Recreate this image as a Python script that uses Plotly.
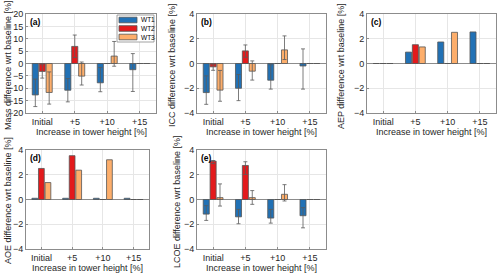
import plotly.graph_objects as go

categories = ["Initial", "+5", "+10", "+15"]
series = ["WT1", "WT2", "WT3"]
colors = {"WT1": "#2171B5", "WT2": "#E31A1C", "WT3": "#FDAE6B"}

# (a) Mass difference
mass_val = {"WT1": [-12.7, -10.8, -7.8, -2.5], "WT2": [-3.2, 6.9, 0, 0], "WT3": [-11.7, -5.1, 3.0, 0]}
mass_hi = {"WT1": [-6.3, -6.1, -1.6, 4.0], "WT2": [-0.5, 11.5, None, None], "WT3": [-3.4, 0.6, 8.9, None]}
mass_lo = {"WT1": [-17.4, -15.5, -11.4, -11.3], "WT2": [-5.9, 2.4, None, None], "WT3": [-16.4, -8.7, -1.1, None]}

# (b) ICC difference
icc_val = {"WT1": [-2.35, -2.0, -1.35, -0.2], "WT2": [-0.27, 1.02, 0, 0], "WT3": [-2.15, -0.62, 1.1, 0]}
icc_hi = {"WT1": [-1.0, -0.89, -0.1, 1.18], "WT2": [-0.1, 1.5, None, None], "WT3": [-0.56, 0.21, 2.23, None]}
icc_lo = {"WT1": [-3.3, -3.0, -2.07, -2.07], "WT2": [-0.55, 0.5, None, None], "WT3": [-3.05, -1.34, 0.32, None]}

# (c) AEP difference
aep_val = {"WT1": [0, 0.92, 1.74, 2.55], "WT2": [0, 1.52, 0, 0], "WT3": [0, 1.34, 2.52, 0]}

# (d) AOE difference
aoe_val = {"WT1": [0.1, 0.1, 0.1, 0.1], "WT2": [2.51, 3.54, 0, 0], "WT3": [1.37, 2.37, 3.21, 0]}

# (e) LCOE difference
lcoe_val = {"WT1": [-1.18, -1.4, -1.5, -1.31], "WT2": [3.1, 2.75, 0, 0], "WT3": [0.15, 0.15, 0.42, 0]}
lcoe_hi = {"WT1": [-0.5, -0.8, -0.8, -0.66], "WT2": [3.15, 3.05, None, None], "WT3": [1.26, 0.72, 1.2, None]}
lcoe_lo = {"WT1": [-1.69, -1.96, -1.91, -2.29], "WT2": [2.9, 2.02, None, None], "WT3": [-0.53, -0.39, -0.12, None]}

panels = [
    ("(a)", "Mass difference wrt baseline [%]", mass_val, mass_hi, mass_lo, [-20, 20], 5),
    ("(b)", "ICC difference wrt baseline [%]", icc_val, icc_hi, icc_lo, [-4, 4], 2),
    ("(c)", "AEP difference wrt baseline [%]", aep_val, None, None, [-4, 4], 2),
    ("(d)", "AOE difference wrt baseline [%]", aoe_val, None, None, [-4, 4], 2),
    ("(e)", "LCOE difference wrt baseline [%]", lcoe_val, lcoe_hi, lcoe_lo, [-4, 4], 2),
]

W, H = 500, 276
# pixel boxes (left, right, top, bottom)
boxes = [(26, 156, 14, 113), (197, 326, 14, 113), (367, 496, 14, 113),
         (26, 149, 150, 249), (197, 326, 150, 249)]
ylab_x = [8, 172, 341, 8, 177]
ylab_y = [66, 66, 66, 201, 202]

FONT = "Liberation Sans, Arial, sans-serif"
TXT = "#262626"
fig = go.Figure()
layout = dict(width=W, height=H, margin=dict(l=0, r=0, t=0, b=0, autoexpand=False),
              paper_bgcolor="white", plot_bgcolor="white",
              barmode="group", bargap=0.36, bargroupgap=0.12,
              font=dict(family=FONT, size=9, color=TXT),
              showlegend=False)
annotations = []
shapes = []

for i, (lab, ytitle, vals, his, los, yr, dt) in enumerate(panels):
    k = i + 1
    xa = "x" if k == 1 else f"x{k}"
    ya = "y" if k == 1 else f"y{k}"
    l, r, t, b = boxes[i]
    for s in series:
        err = None
        if his is not None:
            plus = [(h - v) if h is not None else None for h, v in zip(his[s], vals[s])]
            minus = [(v - lo) if lo is not None else None for lo, v in zip(los[s], vals[s])]
            err = dict(type="data", symmetric=False, array=plus, arrayminus=minus,
                       color="#5a5a5a", thickness=0.8, width=2)
        fig.add_trace(go.Bar(x=categories, y=vals[s], name=s, xaxis=xa, yaxis=ya,
                             marker=dict(color=colors[s], line=dict(color="#555555", width=0.8)),
                             error_y=err))
    layout[f"xaxis{'' if k == 1 else k}"] = dict(
        domain=[l / W, r / W], anchor=ya, range=[-0.5, 3.5], type="category",
        showgrid=True, gridcolor="#e6e6e6", gridwidth=0.6,
        showline=True, linecolor="#8c8c8c", linewidth=0.8, mirror=True,
        ticks="inside", ticklen=2, tickcolor="#8c8c8c",
        tickfont=dict(size=9, color=TXT), fixedrange=True)
    layout[f"yaxis{'' if k == 1 else k}"] = dict(
        domain=[1 - b / H, 1 - t / H], anchor=xa, range=yr, dtick=dt,
        showticklabels=True,
        showgrid=True, gridcolor="#e6e6e6", gridwidth=0.6,
        zeroline=True, zerolinecolor="#8c8c8c", zerolinewidth=0.8,
        showline=True, linecolor="#8c8c8c", linewidth=0.8, mirror=True,
        ticks="inside", ticklen=2, tickcolor="#8c8c8c",
        tickfont=dict(size=9, color=TXT), fixedrange=True)
    annotations.append(dict(text=f"<b>{lab}</b>", xref="paper", yref="paper",
                            x=(l + 2) / W, y=1 - (t + 1) / H, xanchor="left", yanchor="top",
                            showarrow=False, font=dict(size=8.5, color="#000000")))
    annotations.append(dict(text=ytitle, xref="paper", yref="paper", textangle=-90,
                            x=ylab_x[i] / W, y=1 - ylab_y[i] / H, xanchor="center", yanchor="middle",
                            showarrow=False, font=dict(size=9, color=TXT)))
    annotations.append(dict(text="Increase in tower height [%]", xref="paper", yref="paper",
                            x=((l + r) / 2) / W, y=1 - (b + 19) / H, xanchor="center", yanchor="middle",
                            showarrow=False, font=dict(size=9, color=TXT)))

# manual legend in panel (a)
lg_l, lg_r, lg_t, lg_b = 117, 154, 15, 42
shapes.append(dict(type="rect", xref="paper", yref="paper",
                   x0=lg_l / W, x1=lg_r / W, y0=1 - lg_b / H, y1=1 - lg_t / H,
                   line=dict(color="#8c8c8c", width=0.8), fillcolor="white", layer="above"))
for j, s in enumerate(series):
    yc = 20 + j * 8.5
    shapes.append(dict(type="rect", xref="paper", yref="paper",
                       x0=119 / W, x1=137 / W, y0=1 - (yc + 2.8) / H, y1=1 - (yc - 2.8) / H,
                       line=dict(color="#555555", width=0.8), fillcolor=colors[s], layer="above"))
    annotations.append(dict(text=s, xref="paper", yref="paper", x=139 / W, y=1 - yc / H,
                            xanchor="left", yanchor="middle", showarrow=False,
                            font=dict(size=6.5, color="#000000")))

layout["annotations"] = annotations
layout["shapes"] = shapes
fig.update_layout(**layout)
fig.write_html("out.html", config={"displayModeBar": False},
               post_script="document.body.style.margin='0';document.body.style.overflow='hidden';")
